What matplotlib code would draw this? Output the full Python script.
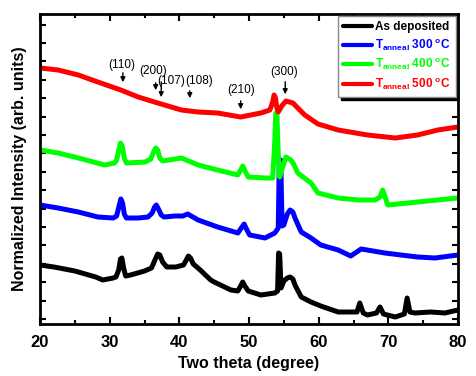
import matplotlib
matplotlib.use("Agg")
import matplotlib.pyplot as plt
from matplotlib.ticker import MultipleLocator, NullFormatter
import numpy as np

plt.rcParams['font.family'] = ['Liberation Sans', 'DejaVu Sans']
plt.rcParams['mathtext.fontset'] = 'custom'
plt.rcParams['mathtext.rm'] = 'Liberation Sans'
plt.rcParams['mathtext.bf'] = 'Liberation Sans:bold'

# ---- data (2theta in degrees, intensity in arbitrary units) ----
black_x = [20, 22, 25, 28, 29, 30.5, 30.9, 31.3, 31.55, 31.75, 32.0, 32.3, 33, 35, 36, 36.5, 36.9, 37.2, 37.6,
           38.2, 39.5, 40.6, 41.0, 41.3, 41.6, 42.0, 42.5, 43, 44.5, 45, 47.4, 48.4, 48.8, 49.1, 49.4, 49.9,
           51.7, 53.7, 54.1, 54.25, 54.4, 54.6, 55, 55.5, 55.9, 56.3, 56.6, 57.5, 58.9, 60.3, 62.8, 65.5,
           65.9, 66.4, 67, 68.3, 68.8, 69.3, 71, 72.3, 72.7, 73.1, 73.8, 76.1, 78.1, 80]
black_y = [59, 57, 53, 47, 44, 46, 47, 54, 65, 66, 56, 48, 49, 53, 56, 64, 70, 69, 62,
           57, 57, 59, 64, 68, 66, 60, 57, 54, 44, 42, 34, 33, 38, 42, 38, 33,
           29, 31, 33, 71, 70, 36, 43, 46, 47, 45, 39, 27, 22, 18, 12, 12,
           21, 11, 9, 11, 17, 10, 7, 10, 26, 12, 11, 12, 11, 14]

blue_x = [20, 22.6, 25.5, 28.3, 30.5, 31.0, 31.35, 31.6, 31.85, 32.1, 32.4, 34.1, 35.5, 36.1, 36.45, 36.7, 37.0,
          37.4, 37.8, 39.4, 40.5, 41.2, 42.7, 45.5, 48.4, 48.9, 49.3, 49.7, 50.1, 52.3, 53.7, 54.2, 54.35,
          54.55, 54.75, 55.0, 55.5, 55.9, 56.3, 56.6, 57.5, 58.9, 60.3, 62.8, 64.6, 66.1, 69.5, 71.8, 74.2,
          76.7, 80]
blue_y = [119, 116, 112, 107, 106, 108, 118, 125, 121, 110, 106, 106, 107, 111, 117, 119, 115,
          109, 107, 108, 108, 110, 104, 97, 91, 96, 100, 94, 89, 86, 91, 96, 164,
          164, 98, 99, 110, 114, 112, 106, 92, 86, 79, 74, 68, 75, 71, 69, 67,
          66, 69]

green_x = [20, 22.6, 25.5, 29.3, 30.7, 31.0, 31.3, 31.55, 31.8, 32.1, 32.4, 35.1, 35.9, 36.3, 36.6, 36.9, 37.2,
           37.6, 40.3, 42.7, 45.5, 48.4, 48.8, 49.1, 49.5, 49.9, 52.3, 53.4, 53.65, 53.85, 54.0, 54.2, 54.4,
           54.7, 55.3, 56.0, 56.4, 57.0, 58.9, 59.9, 62.8, 65.7, 68.1, 68.8, 69.2, 69.5, 69.9, 72.8, 75.6, 80]
green_y = [174, 171, 166, 159, 161, 164, 174, 181, 178, 166, 161, 162, 165, 172, 176, 174, 166,
           163, 166, 159, 154, 149, 154, 158, 152, 147, 146, 146, 175, 211, 211, 170, 147,
           154, 167, 164, 160, 151, 141, 131, 126, 124, 124, 127, 134, 128, 119, 121, 123, 126]

red_x = [20, 22.6, 25.5, 28.3, 31.6, 34.1, 36.9, 40.3, 42.7, 45.5, 48.8, 51.7, 53.0, 53.4, 53.6, 53.8, 54.0,
         54.2, 54.7, 55.3, 56.3, 58.0, 59.9, 62.8, 67, 71, 74.2, 77.1, 80]
red_y = [256, 254, 249, 242, 234, 227, 221, 214, 212, 211, 207, 211, 214, 222, 229, 226, 216,
         212, 218, 223, 221, 209, 200, 194, 189, 186, 189, 194, 197]

series_labels = ['As deposited',
                 r'T$_{\mathbf{anneal}}$ 300 $^{\mathbf{o}}$C',
                 r'T$_{\mathbf{anneal}}$ 400 $^{\mathbf{o}}$C',
                 r'T$_{\mathbf{anneal}}$ 500 $^{\mathbf{o}}$C']
series_colors = ['#000000', '#0000FF', '#00FF00', '#FF0000']

peak_labels = ['(110)', '(200)', '(107)', '(108)', '(210)', '(300)']
peak_x = [31.9, 36.6, 37.4, 41.5, 48.8, 55.2]

# ---- figure ----
fig = plt.figure(figsize=(4.76, 3.76), dpi=100)
ax = fig.add_axes([40/476, 52/376, 418/476, 310/376])

for xs, ys, c, lab in zip([black_x, blue_x, green_x, red_x], [black_y, blue_y, green_y, red_y],
                          series_colors, series_labels):
    ax.plot(xs, ys, color=c, lw=3.6, label=lab, solid_joinstyle='round', solid_capstyle='round')

ax.set_xlim(20, 80)
ax.set_ylim(0, 310)
ax.xaxis.set_major_locator(MultipleLocator(10))
ax.xaxis.set_minor_locator(MultipleLocator(5))
ax.set_yticks(np.arange(5, 310, 18.4))
ax.yaxis.set_major_formatter(NullFormatter())
ax.tick_params(axis='both', which='both', direction='in', top=True, right=True, width=1.5)
ax.tick_params(axis='x', which='major', length=5, labelsize=12, pad=8)
ax.tick_params(axis='x', which='minor', length=3)
ax.tick_params(axis='y', which='major', length=4)
for lbl in ax.get_xticklabels():
    lbl.set_fontweight('bold')
for sp in ax.spines.values():
    sp.set_linewidth(2)

ax.set_xlabel('Two theta (degree)', fontsize=11.5, fontweight='bold', labelpad=4)
ax.set_ylabel('Normalized Intensity (arb. units)', fontsize=11.5, fontweight='bold', labelpad=6)

# peak annotations
text_pos = [(31.7, 259), (36.2, 253), (38.8, 243), (42.8, 243), (48.85, 234), (55.0, 252)]
arrow_tail = [254, 244, 245, 236, 226, 245]
arrow_tip = [239, 231, 224, 223, 212, 227]
for lab, px, (tx, ty), t0, t1 in zip(peak_labels, peak_x, text_pos, arrow_tail, arrow_tip):
    ax.text(tx, ty, lab, fontsize=8.5, ha='center', va='center')
    ax.annotate('', xy=(px, t1), xytext=(px, t0),
                arrowprops=dict(arrowstyle='-|>', color='k', lw=1, mutation_scale=7))

leg = ax.legend(loc='upper right', prop={'weight': 'bold', 'size': 8.5},
                handlelength=2.5, handletextpad=0.25, borderaxespad=0.2, labelspacing=0.32,
                borderpad=0.4, fancybox=False, edgecolor='#888888', framealpha=1,
                shadow={'color': 'black', 'alpha': 1})
leg.get_frame().set_linewidth(1)
for t, c in zip(leg.get_texts(), series_colors):
    t.set_color(c)
for h in leg.get_lines():
    h.set_linewidth(3)

fig.savefig('out.png', dpi=100)
